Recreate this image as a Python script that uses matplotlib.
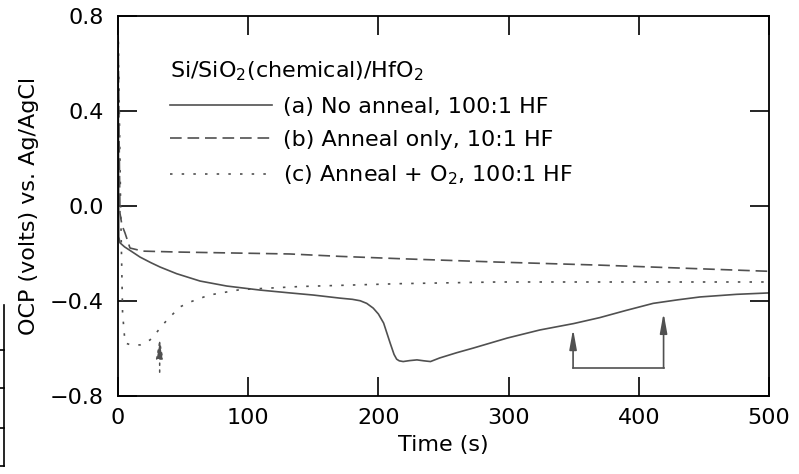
import numpy as np
import matplotlib
matplotlib.use("Agg")
import matplotlib.pyplot as plt
from matplotlib.lines import Line2D

plt.rcParams['font.family'] = ['DejaVu Sans']
plt.rcParams['mathtext.default'] = 'regular'

# (a) No anneal, 100:1 HF  -- solid
t_a = [0, 0.6, 1.5, 5, 9.2, 16.9, 25, 32.3, 45, 63, 83.5, 109, 132, 150, 170.5,
       180, 186, 191, 196, 200, 204, 209, 212, 214, 216, 219, 224, 229.6, 235,
       240, 247, 260, 273, 286, 299, 324, 350, 370, 390, 411, 430, 447, 475, 500]
v_a = [0.79, -0.13, -0.155, -0.172, -0.187, -0.215, -0.238, -0.257, -0.285,
       -0.316, -0.337, -0.354, -0.366, -0.375, -0.388, -0.393, -0.399, -0.41,
       -0.43, -0.455, -0.493, -0.577, -0.625, -0.645, -0.652, -0.655, -0.651,
       -0.648, -0.652, -0.655, -0.64, -0.618, -0.598, -0.577, -0.556, -0.522,
       -0.495, -0.47, -0.44, -0.41, -0.395, -0.383, -0.372, -0.366]

# (b) Anneal only, 10:1 HF  -- dashed
t_b = [0, 0.8, 1.5, 3, 5.4, 9.2, 19, 47, 132, 170, 217, 291, 370, 500]
v_b = [0.79, 0.30, -0.03, -0.08, -0.114, -0.177, -0.19, -0.194, -0.202, -0.212,
       -0.222, -0.236, -0.249, -0.275]

# (c) Anneal + O2, 100:1 HF  -- dotted
t_c = [0, 2, 3.5, 5.4, 10, 17, 24.6, 30, 37.6, 47.6, 55, 70, 94, 140, 217, 291, 500]
v_c = [0.79, 0.0, -0.45, -0.577, -0.585, -0.585, -0.564, -0.53, -0.48, -0.425,
       -0.405, -0.375, -0.352, -0.339, -0.327, -0.32, -0.32]

labels = ["(a) No anneal, 100:1 HF", "(b) Anneal only, 10:1 HF",
          "(c) Anneal + O$_2$, 100:1 HF"]
legend_title = "Si/SiO$_2$(chemical)/HfO$_2$"

# arrows: (x, y_tail, y_head)
arrow_c = (32, -0.70, -0.556)
arrows_a = [(349.5, -0.682, -0.518), (419, -0.682, -0.45)]

xticks = [0, 100, 200, 300, 400, 500]
yticks = [0.8, 0.4, 0.0, -0.4, -0.8]
ytick_labels = ["0.8", "0.4", "0.0", "\u22120.4", "\u22120.8"]

gray = "#505050"
fs = 16

fig = plt.figure(figsize=(7.99, 4.74), dpi=100)
ax = fig.add_axes([0.1477, 0.1646, 0.8148, 0.8016])

ax.plot(t_a, v_a, color=gray, lw=1.2, label=labels[0])
ax.plot(t_b, v_b, color=gray, lw=1.2, dashes=(7, 3.5), label=labels[1])
ax.plot(t_c, v_c, color=gray, lw=1.2, dashes=(1.5, 5.5), label=labels[2])

head = "-|>,head_length=1.0,head_width=0.18"
# dotted arrow for curve (c)
ax.annotate("", xy=(arrow_c[0], arrow_c[2]), xytext=(arrow_c[0], arrow_c[1]),
            arrowprops=dict(arrowstyle=head, color=gray, lw=1.1,
                            linestyle=(0, (1.5, 3)), mutation_scale=12,
                            shrinkA=0, shrinkB=0))
# bracket arrows for curve (a)
ax.plot([arrows_a[0][0], arrows_a[1][0]], [arrows_a[0][1], arrows_a[1][1]],
        color=gray, lw=1.2)
for x, y0, y1 in arrows_a:
    ax.annotate("", xy=(x, y1), xytext=(x, y0),
                arrowprops=dict(arrowstyle=head, color=gray, lw=1.2,
                                mutation_scale=12, shrinkA=0, shrinkB=0))

ax.set_xlim(0, 500)
ax.set_ylim(-0.8, 0.8)
ax.set_xticks(xticks)
ax.set_yticks(yticks)
ax.set_yticklabels(ytick_labels)
ax.tick_params(direction='in', length=14, width=1.2, top=True, right=True,
               labelsize=fs)
ax.tick_params(axis='y', pad=10)
ax.tick_params(axis='x', pad=9)
for s in ax.spines.values():
    s.set_linewidth(1.3)

ax.set_xlabel("Time (s)", fontsize=fs, labelpad=5)
ax.set_ylabel("OCP (volts) vs. Ag/AgCl", fontsize=fs, labelpad=8)

leg = ax.legend(loc='upper left', bbox_to_anchor=(0.08, 0.885), frameon=False,
                fontsize=fs, title=legend_title, title_fontsize=fs,
                handlelength=4.6, handletextpad=0.5, labelspacing=0.6,
                borderpad=0, borderaxespad=0, alignment='left')

# cropped table fragment at the left edge of the source image
for y in [350, 388, 428, 466]:
    fig.add_artist(Line2D([0, 4 / 799], [1 - y / 474] * 2, color='k', lw=1.2))
fig.add_artist(Line2D([4 / 799] * 2, [1 - 305 / 474, 1 - 466 / 474], color='k', lw=1.2))

fig.savefig("out.png", dpi=100)
